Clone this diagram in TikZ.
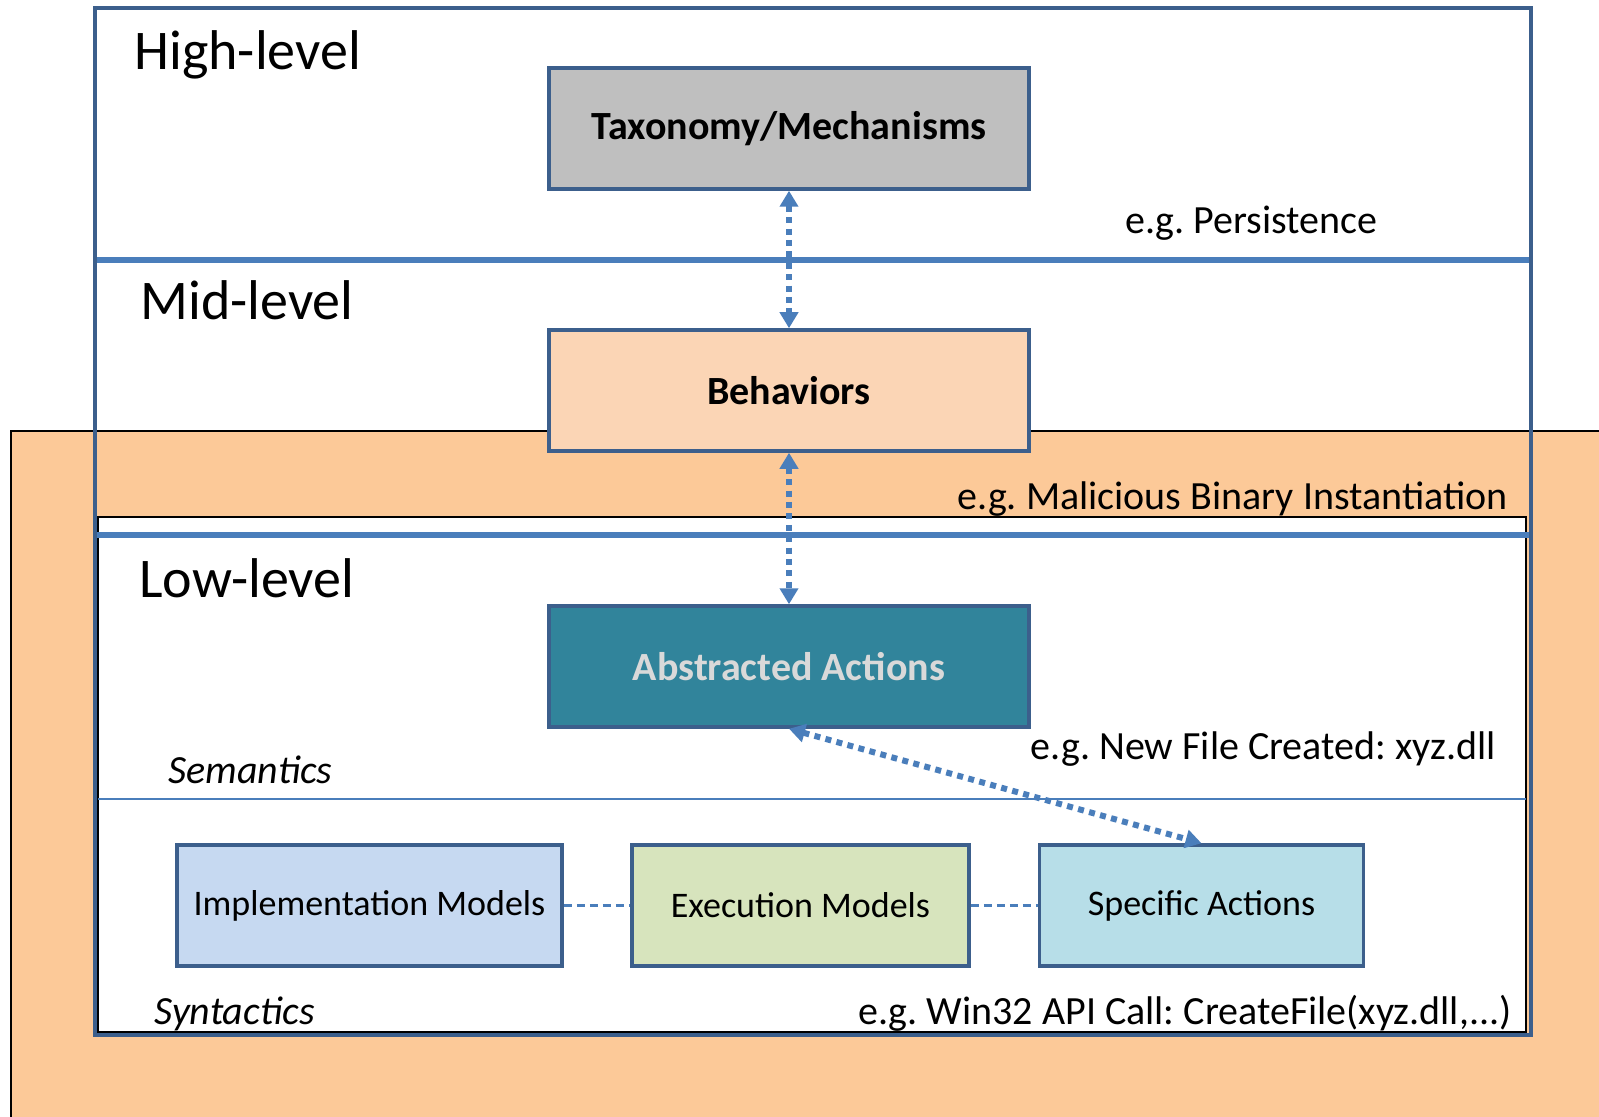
\documentclass[tikz,border=0pt]{standalone}
\usepackage{fontspec}
\setmainfont{Carlito}
\usepackage{tikz}
\usetikzlibrary{positioning, arrows.meta}
\definecolor{lvframe}{HTML}{3C5F8C}
\definecolor{lvline}{HTML}{4A7EBB}
\definecolor{lvorange}{HTML}{FCC998}
\definecolor{lvgray}{HTML}{BFBFBF}
\definecolor{lvpeach}{HTML}{FBD5B5}
\definecolor{lvteal}{HTML}{31849B}
\definecolor{lvlight}{HTML}{D9D9D9}
\definecolor{lvimpl}{HTML}{C6D9F1}
\definecolor{lvexec}{HTML}{D7E4BD}
\definecolor{lvspec}{HTML}{B7DEE8}

\begin{document}
\frenchspacing
\begin{tikzpicture}[
  x=0.5pt, y=-0.5pt,
  box/.style={draw=lvframe, line width=1.75pt, align=center, minimum width=240pt, minimum height=60.5pt, inner sep=0pt, font=\fontsize{20}{24}\selectfont\bfseries},
  modelbox/.style={draw=lvframe, line width=1.75pt, minimum height=60.5pt, inner sep=0pt, font=\fontsize{18}{22}\selectfont},
  level/.style={anchor=base west, inner sep=0pt, font=\fontsize{28}{34}\selectfont},
  note/.style={anchor=base east, inner sep=0pt, font=\fontsize{20}{24}\selectfont},
  side/.style={anchor=base west, inner sep=0pt, font=\fontsize{20}{24}\selectfont\itshape},
  dotarr/.style={{Triangle[width=9pt,length=8pt]}-{Triangle[width=9pt,length=8pt]}, lvline, line width=3pt, dash pattern=on 3pt off 2.7pt},
  dasharr/.style={lvline, line width=1.2pt, dash pattern=on 4pt off 2.5pt}
]
  \useasboundingbox (0,0) rectangle (1599,1117);
  % orange backdrop and white low-level area
  \fill[lvorange] (11,431) rectangle (1599,1117);
  \draw[line width=1pt] (11,1117) -- (11,431) -- (1599,431);
  \draw[line width=1pt, fill=white] (98,517) rectangle (1526,1032);

  % layer separators and frame
  \draw[lvline, line width=3pt] (95,260) -- (1531,260);
  \draw[lvline, line width=3pt] (95,535) -- (1531,535);
  \draw[lvline, line width=1.3pt] (98,799) -- (1526,799);
  \draw[lvframe, line width=2.2pt] (95,8) rectangle (1531,1035);

  % level titles
  \node[level] (high) at (134,70) {High-level};
  \node[level] (mid) at (140,320) {Mid-level};
  \node[level] (low) at (139,597) {Low-level};
  \node[side] (sem) at (168,783) {Semantics};
  \node[side] (syn) at (154,1024) {Syntactics};

  % main boxes
  \node[box, fill=lvgray] (tax) at (789,128.5) {Taxonomy/Mechanisms};
  \node[box, fill=lvpeach] (beh) at (789,390.5) {Behaviors};
  \node[box, fill=lvteal, text=lvlight] (abs) at (789,666.5) {Abstracted Actions};

  % syntactic models
  \node[modelbox, fill=lvimpl, minimum width=192.5pt] (impl) at (369.5,905.5) {Implementation Models};
  \node[modelbox, fill=lvexec, minimum width=168.5pt, right=33.25pt of impl] (exec) {Execution Models};
  \node[modelbox, fill=lvspec, minimum width=162pt, right=33.5pt of exec] (spec) {Specific Actions};

  % examples
  \node[note] (ex1) at (1378,234) {e.g. Persistence};
  \node[note] (ex2) at (1508,509) {e.g. Malicious Binary Instantiation};
  \node[note] (ex3) at (1496,759) {e.g. New File Created: xyz.dll};
  \node[note] (ex4) at (1512,1024) {e.g. Win32 API Call: CreateFile(xyz.dll,...)};

  \draw[dasharr] (impl) -- (exec);
  \draw[dasharr] (exec) -- (spec);
  \draw[dotarr] (tax) -- (beh);
  \draw[dotarr] (beh) -- (abs);
  \draw[dotarr] (abs.south) -- (spec.north);
\end{tikzpicture}
\end{document}
